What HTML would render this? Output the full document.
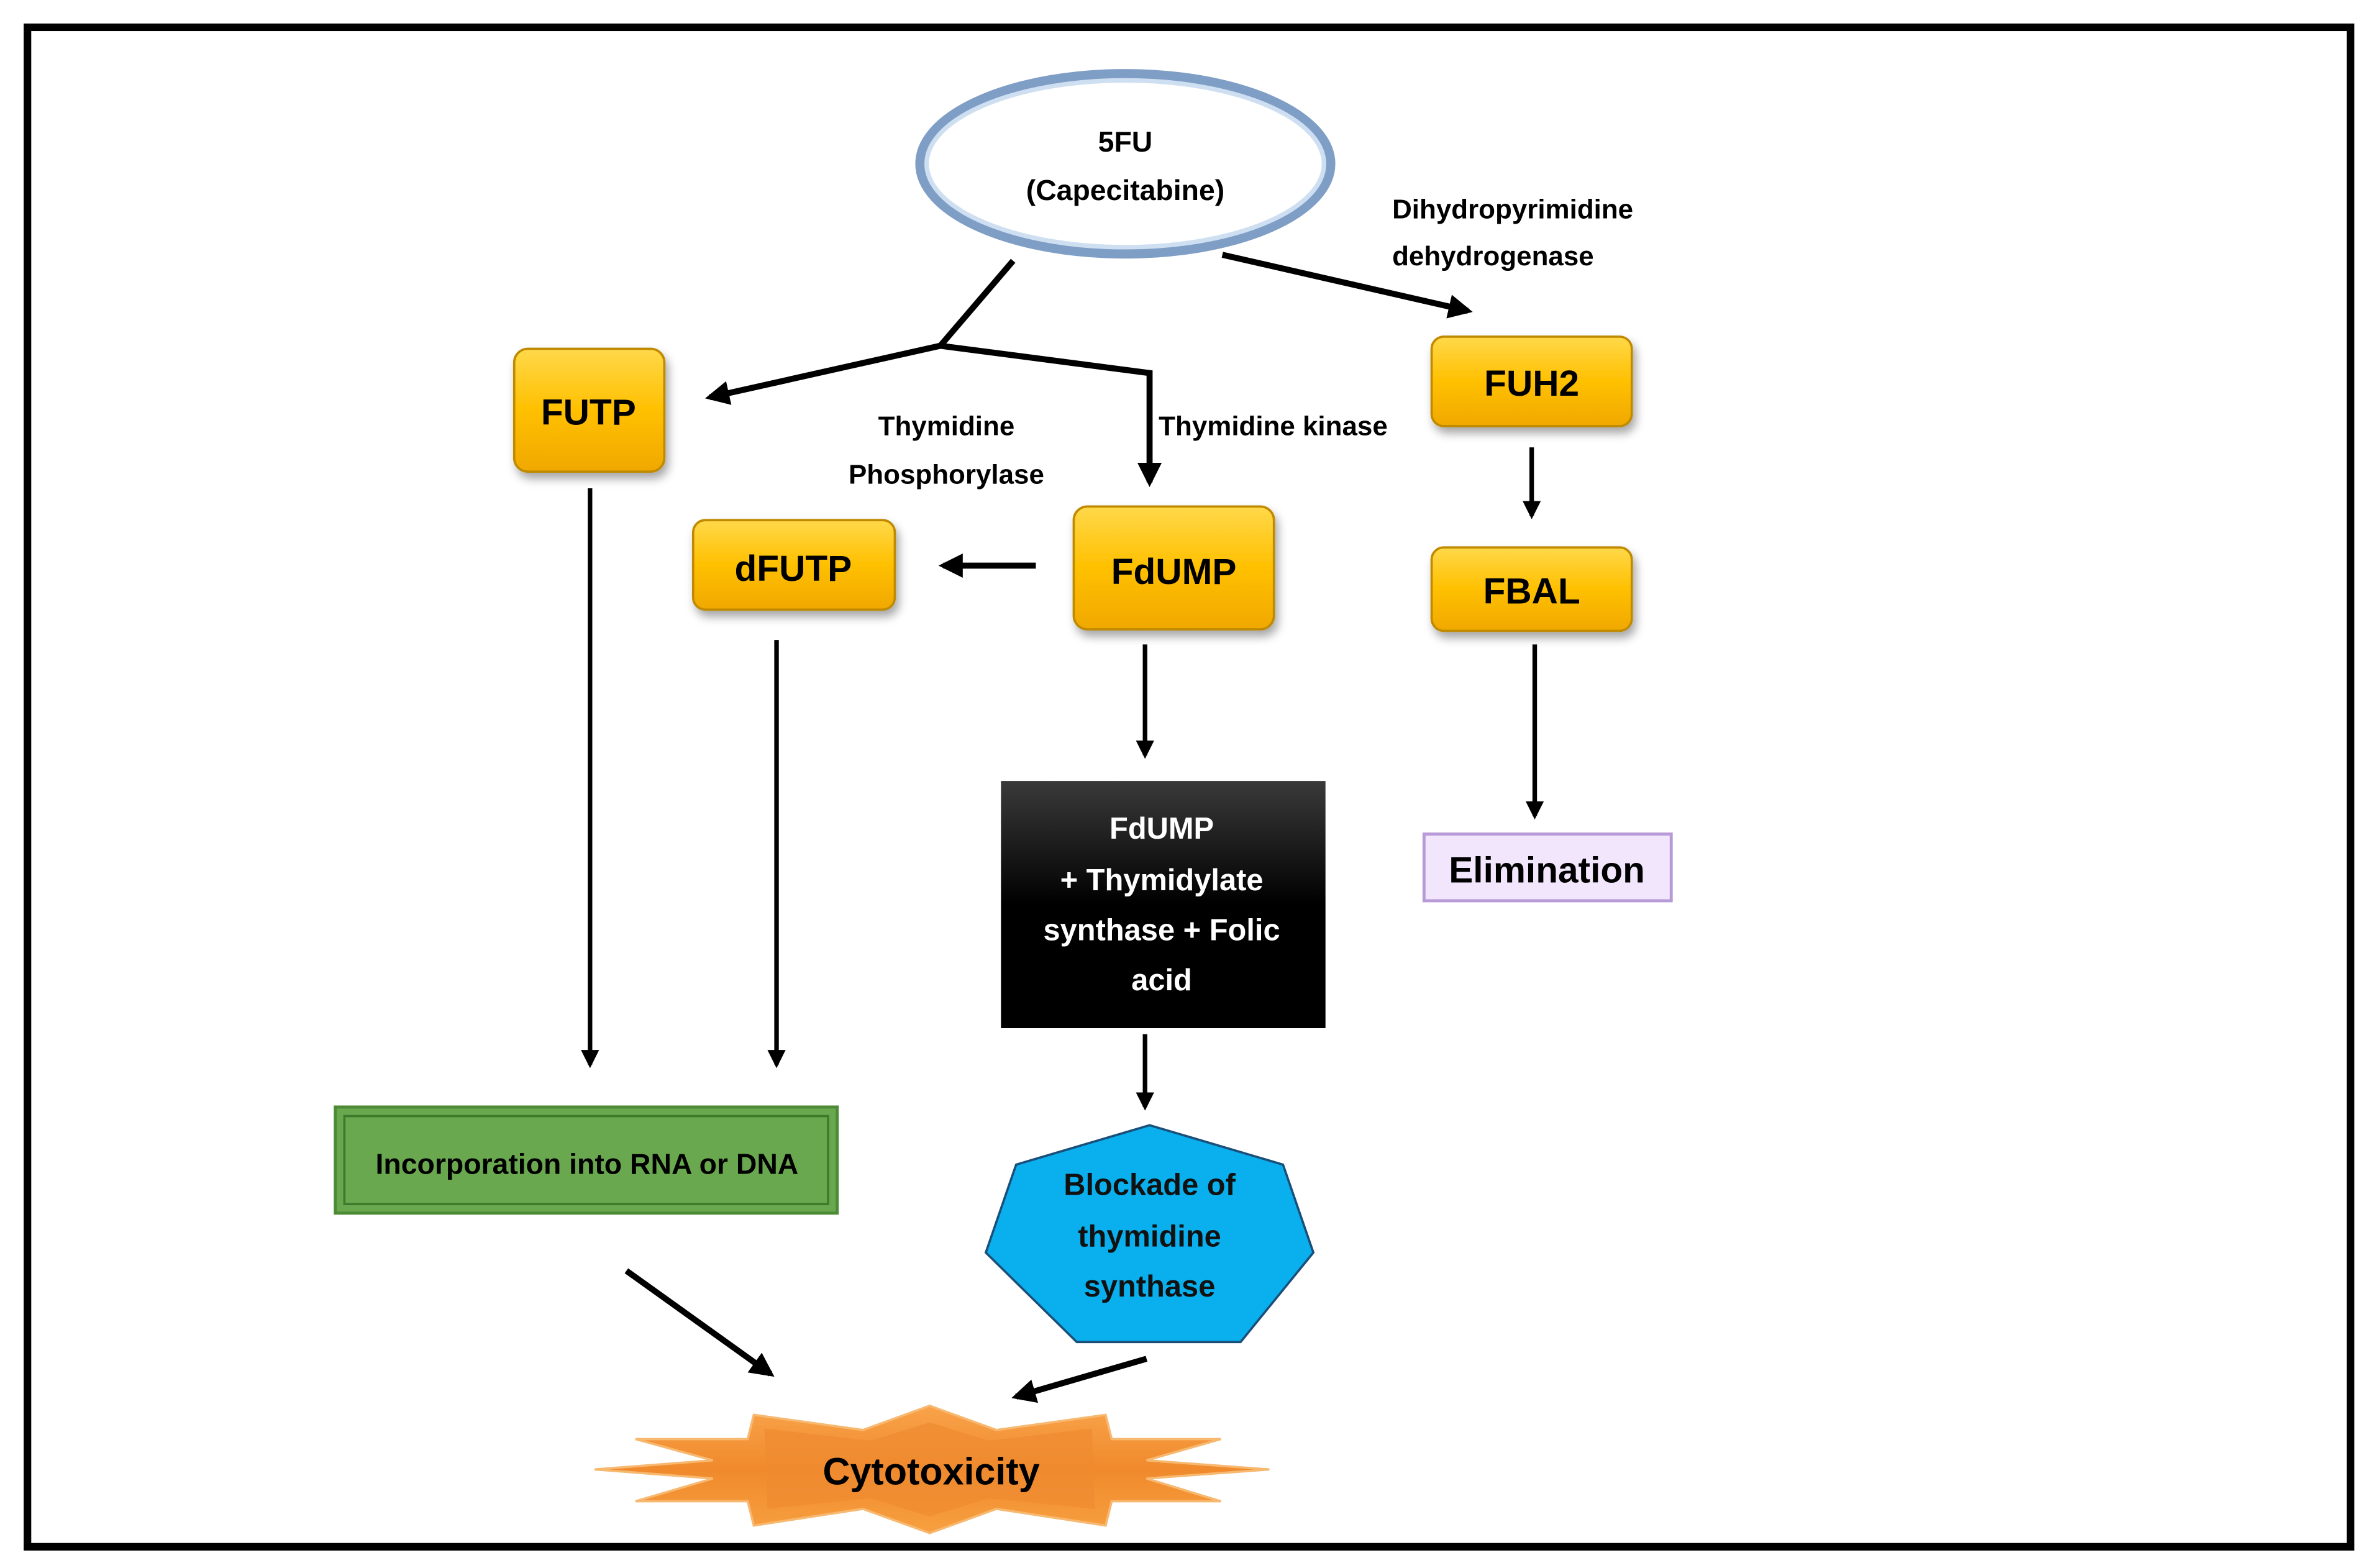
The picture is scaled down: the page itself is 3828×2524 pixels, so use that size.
<!DOCTYPE html>
<html><head><meta charset="utf-8"><style>
html,body{margin:0;padding:0;background:#fff;}
svg{display:block;}
text{font-family:"Liberation Sans",sans-serif;font-weight:bold;}
</style></head><body>
<svg width="3828" height="2524" viewBox="0 0 1568 1034" xmlns="http://www.w3.org/2000/svg">
<defs>
<linearGradient id="gold" x1="0" y1="0" x2="0" y2="1">
<stop offset="0" stop-color="#ffd84a"/><stop offset="0.5" stop-color="#ffc000"/><stop offset="1" stop-color="#f0a800"/></linearGradient>
<linearGradient id="blk" x1="0" y1="0" x2="0" y2="1">
<stop offset="0" stop-color="#3a3a3a"/><stop offset="0.5" stop-color="#000"/><stop offset="1" stop-color="#000"/></linearGradient>
<linearGradient id="org" x1="0" y1="0" x2="0" y2="1">
<stop offset="0" stop-color="#f9a34a"/><stop offset="0.5" stop-color="#f08a2c"/><stop offset="1" stop-color="#f7a040"/></linearGradient>
<marker id="ah" viewBox="0 0 10 10" refX="8" refY="5" markerWidth="4" markerHeight="4" orient="auto">
<path d="M0,0 L10,5 L0,10 z" fill="#000"/></marker>
<filter id="sh" x="-20%" y="-20%" width="140%" height="150%"><feDropShadow dx="2" dy="4" stdDeviation="3" flood-color="#000" flood-opacity="0.35"/></filter>
</defs>
<rect x="0" y="0" width="1568" height="1034" fill="#fff"/>
<rect x="18" y="18" width="1532" height="1002" fill="none" stroke="#000" stroke-width="5"/>

<ellipse cx="742" cy="108" rx="135" ry="59" fill="#fff" stroke="#7f9ec6" stroke-width="7"/>
<ellipse cx="742" cy="108" rx="131" ry="55" fill="none" stroke="#cfdff2" stroke-width="3"/>
<text x="742" y="100" font-size="19" text-anchor="middle">5FU</text>
<text x="742" y="132" font-size="19" text-anchor="middle">(Capecitabine)</text>

<g stroke="#000" stroke-width="4" fill="none">
<line x1="668" y1="172" x2="620" y2="228"/>
<line x1="620" y1="228" x2="468" y2="262" marker-end="url(#ah)"/>
<polyline points="620,228 758,246 758,318" marker-end="url(#ah)"/>
<line x1="806" y1="168" x2="968" y2="205" marker-end="url(#ah)"/>
<line x1="683" y1="373" x2="622" y2="373" marker-end="url(#ah)"/>
<line x1="1010" y1="295" x2="1010" y2="340" stroke-width="3" marker-end="url(#ah)"/>
<line x1="1012" y1="425" x2="1012" y2="538" stroke-width="3" marker-end="url(#ah)"/>
<line x1="755" y1="425" x2="755" y2="498" stroke-width="3" marker-end="url(#ah)"/>
<line x1="755" y1="682" x2="755" y2="730" stroke-width="3" marker-end="url(#ah)"/>
<line x1="389" y1="322" x2="389" y2="702" stroke-width="3" marker-end="url(#ah)"/>
<line x1="512" y1="422" x2="512" y2="702" stroke-width="3" marker-end="url(#ah)"/>
<line x1="413" y1="838" x2="508" y2="906" marker-end="url(#ah)"/>
<line x1="756" y1="896" x2="670" y2="921" marker-end="url(#ah)"/>
</g>

<text x="918" y="144" font-size="18">Dihydropyrimidine</text>
<text x="918" y="175" font-size="18">dehydrogenase</text>
<text x="624" y="287" font-size="18" text-anchor="middle">Thymidine</text>
<text x="624" y="319" font-size="18" text-anchor="middle">Phosphorylase</text>
<text x="764" y="287" font-size="18">Thymidine kinase</text>

<g filter="url(#sh)" stroke="#c08a00" stroke-width="1.5" fill="url(#gold)">
<rect x="339" y="230" width="99" height="81" rx="9"/>
<rect x="944" y="222" width="132" height="59" rx="8"/>
<rect x="457" y="343" width="133" height="59" rx="8"/>
<rect x="708" y="334" width="132" height="81" rx="9"/>
<rect x="944" y="361" width="132" height="55" rx="8"/>
</g>
<text x="388" y="280" font-size="24" text-anchor="middle">FUTP</text>
<text x="1010" y="261" font-size="24" text-anchor="middle">FUH2</text>
<text x="523" y="383" font-size="24" text-anchor="middle">dFUTP</text>
<text x="774" y="385" font-size="24" text-anchor="middle">FdUMP</text>
<text x="1010" y="398" font-size="24" text-anchor="middle">FBAL</text>

<rect x="939" y="550" width="163" height="44" fill="#f1e6fb" stroke="#b89ad8" stroke-width="2"/>
<text x="1020" y="582" font-size="24" text-anchor="middle">Elimination</text>

<rect x="660" y="515" width="214" height="163" fill="url(#blk)"/>
<g fill="#fff" font-size="20" text-anchor="middle">
<text x="766" y="553">FdUMP</text>
<text x="766" y="587">+ Thymidylate</text>
<text x="766" y="620">synthase + Folic</text>
<text x="766" y="653">acid</text>
</g>

<polygon points="758,742 846,768 866,826 818,885 710,885 650,826 670,768" fill="#0ab0ee" stroke="#1a4f7a" stroke-width="1.5"/>
<g font-size="20" text-anchor="middle" fill="#111">
<text x="758" y="788">Blockade of</text>
<text x="758" y="822">thymidine</text>
<text x="758" y="855">synthase</text>
</g>

<rect x="221" y="730" width="331" height="70" fill="#6aa84f" stroke="#4c8a35" stroke-width="2"/>
<rect x="227" y="736" width="319" height="58" fill="none" stroke="#3f7a2a" stroke-width="1.5"/>
<text x="387" y="774" font-size="19" text-anchor="middle">Incorporation into RNA or DNA</text>

<polygon points="613,927 657,943 729,933 733,949 805,949 756,963 837,969 756,975 805,990 733,990 729,1006 657,995 613,1011 569,995 497,1006 493,990 419,990 470,975 392,969 470,963 419,949 493,949 497,933 569,943" fill="url(#org)" stroke="#f7b870" stroke-width="1.5"/>
<polygon points="613,938 652,950 720,942 722,995 652,988 613,1000 574,988 506,995 504,942 574,950" fill="#ef8a30" opacity="0.7"/>
<text x="614" y="979" font-size="25" text-anchor="middle">Cytotoxicity</text>
</svg>
</body></html>
